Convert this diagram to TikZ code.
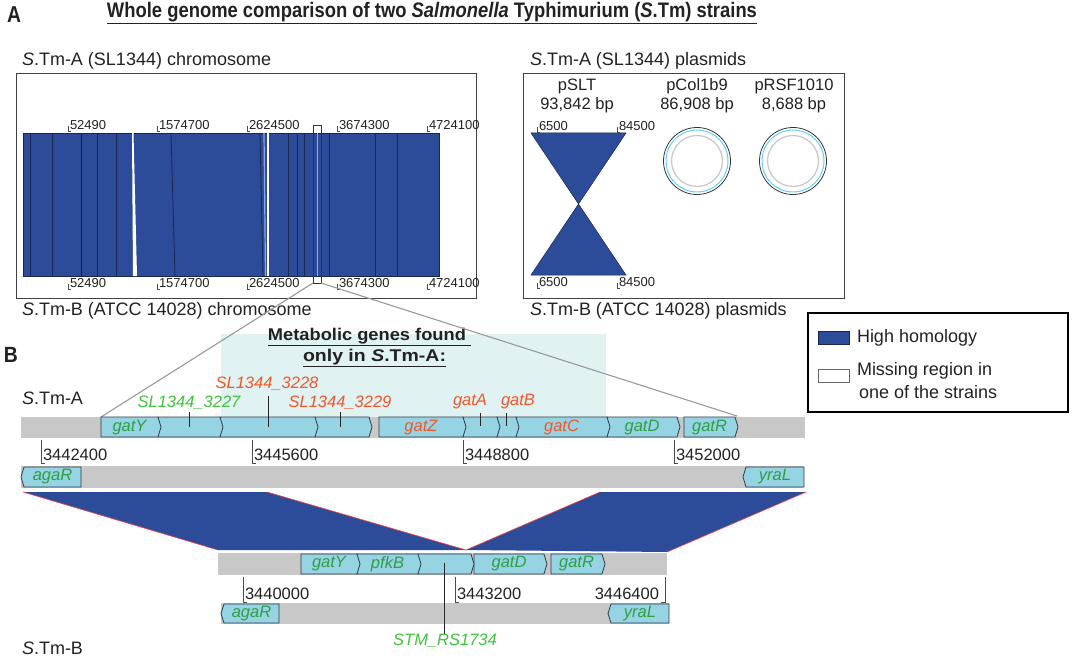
\documentclass[tikz,border=0pt]{standalone}
\usepackage{fontspec}
\setmainfont{Liberation Sans}
\usepackage{graphicx}
\definecolor{hblue}{HTML}{2C4C99}
\definecolor{genecyan}{HTML}{96D3E3}
\definecolor{barg}{HTML}{C8C8C8}
\definecolor{shadeteal}{HTML}{E0F2F1}
\definecolor{orng}{HTML}{F0582A}
\definecolor{gbright}{HTML}{3EC43A}
\definecolor{gdark}{HTML}{2F9E44}
\definecolor{ink}{HTML}{222222}
\definecolor{lineblue}{HTML}{1A2550}
\definecolor{ltblue}{HTML}{8CA8E0}
\definecolor{geneline}{HTML}{2E3A48}
\newcommand\fsbig{\fontsize{18}{21}\selectfont}
\newcommand\fsmid{\fontsize{16.5}{19}\selectfont}
\newcommand\fstiny{\fontsize{13}{15}\selectfont}
\newcommand\genefwd[4]{\draw[gene] (#1,#3) -- (#2,#3) -- ({#2+3},{(#3+#4)/2}) -- (#2,#4) -- (#1,#4) -- cycle;}
\newcommand\generev[4]{\draw[gene] (#2,#3) -- (#1,#3) -- ({#1-3},{(#3+#4)/2}) -- (#1,#4) -- (#2,#4) -- cycle;}
\newcommand\chrtick[3]{\draw[ticksty] (#1,{#2+1}) -- (#1,{#2+6}) -- ({#1+3},{#2+6});
  \node[anchor=west,font=\fstiny,text=ink] at ({#1+2},#2) {#3};}
\newcommand\rulR[4]{\draw[ticksty] (#1,#2) -- (#1,#3) -- ({#1+4},#3);
  \node[anchor=west,font=\fsmid,text=ink] at ({#1+2},{#3-8}) {#4};}
\newcommand\rulL[4]{\draw[ticksty] (#1,#2) -- (#1,#3) -- ({#1-4},#3);
  \node[anchor=east,font=\fsmid,text=ink] at ({#1-6},{#3-8}) {#4};}
\tikzset{
  gene/.style={fill=genecyan, draw=geneline, line width=0.8pt, line join=miter},
  ticksty/.style={draw=black!70, line width=0.7pt},
  vline/.style={draw=lineblue, line width=0.8pt},
  glab/.style={font=\fsmid\itshape},
  lbl/.style={font=\fsbig, text=ink},
  panel/.style={draw=black!75, line width=1pt, fill=none}
}
\begin{document}
\begin{tikzpicture}[x=1pt,y=-1pt, every node/.style={inner sep=0pt, outer sep=0pt}]
\useasboundingbox (0,0) rectangle (1080,658);
\fill[white] (0,0) rectangle (1080,658);

% ---------- Panel A ----------
\node[font=\fontsize{23}{25}\selectfont\bfseries, text=ink] (labA) at (14,15) {\resizebox{14pt}{\height}{A}};
\node[text=ink] (title) at (432,13) {\resizebox{650pt}{\height}{\fontsize{21}{24}\selectfont\bfseries\underline{Whole genome comparison of two \textit{Salmonella} Typhimurium (\textit{S}.Tm) strains}}};

\node[lbl, anchor=west] (chrA) at (22,61) {\textit{S}.Tm-A (SL1344) chromosome};
\node[lbl, anchor=west] (chrB) at (22,311) {\textit{S}.Tm-B (ATCC 14028) chromosome};
\node[lbl, anchor=west] (plA) at (530,61) {\textit{S}.Tm-A (SL1344) plasmids};
\node[lbl, anchor=west] (plB) at (530,311) {\textit{S}.Tm-B (ATCC 14028) plasmids};

\draw[panel] (16,74) rectangle (476,298);
\draw[panel] (523,74) rectangle (844,298);

% chromosome alignment block
\fill[hblue] (23,133) rectangle (439,276);
\draw[lineblue, line width=0.6pt] (23,133) rectangle (439,276);
\foreach \a/\b in {30/30,52/52,97/97,116/116,171/175,260/263,288/288,297/297,304/304,329/329,375/375,397/397}
  \draw[vline] (\a,133) -- (\b,276);
\draw[line width=0.8pt, draw=black!60!red] (81,133) -- (81,276);
\fill[white] (132,133) -- (133.5,133) -- (137,276) -- (133,276) -- cycle;
\draw[ltblue, line width=1.2pt] (264,133) -- (265.5,276);
\fill[white] (267,133) rectangle (269,276);
\draw[ltblue, line width=1pt] (317,133) -- (317,276);
\node[draw=black!80, line width=0.8pt, minimum width=8pt, minimum height=158pt] (zoombox) at (317,204) {};

\chrtick{68}{125}{52490}
\chrtick{157}{125}{1574700}
\chrtick{247}{125}{2624500}
\chrtick{337}{125}{3674300}
\chrtick{427}{125}{4724100}
\chrtick{68}{283}{52490}
\chrtick{157}{283}{1574700}
\chrtick{247}{283}{2624500}
\chrtick{337}{283}{3674300}
\chrtick{427}{283}{4724100}

% plasmids
\node[font=\fontsize{16.5}{19}\selectfont, text=ink, align=center] (pslt) at (577,96) {pSLT\\93,842 bp};
\node[font=\fontsize{16.5}{19}\selectfont, text=ink, align=center] (pcol) at (697,96) {pCol1b9\\86,908 bp};
\node[font=\fontsize{16.5}{19}\selectfont, text=ink, align=center] (prsf) at (794,96) {pRSF1010\\8,688 bp};
\fill[hblue, draw=lineblue, line width=0.5pt] (531,133) -- (626,133) -- (578.5,204) -- cycle;
\fill[hblue, draw=lineblue, line width=0.5pt] (578.5,204) -- (531,275) -- (626,275) -- cycle;
\chrtick{537}{126}{6500}
\chrtick{617}{126}{84500}
\chrtick{537}{282}{6500}
\chrtick{617}{282}{84500}
\foreach \cx in {697,793}{
  \draw[black!80, line width=0.8pt] (\cx,161) circle[radius=33.5];
  \draw[cyan!60!white, line width=1pt] (\cx,161) circle[radius=31];
  \draw[black!22, line width=1.2pt] (\cx,161) circle[radius=25.5];
}

% legend
\node[draw=black, line width=1.2pt, minimum width=260pt, minimum height=99pt] (legend) at (938,362.5) {};
\fill[hblue, draw=lineblue, line width=0.6pt] (818,331) rectangle (849,344);
\draw[black!60, line width=0.8pt, fill=white] (818,369) rectangle (849,382);
\node[lbl, anchor=west] (lg1) at (857,337.5) {High homology};
\node[lbl, anchor=west] (lg2) at (857,371) {Missing region in};
\node[lbl, anchor=west] (lg3) at (859,392) {one of the strains};

% ---------- Panel B ----------
\fill[shadeteal] (221,334) rectangle (606,418);
\node[text=ink] (mg1) at (369.5,337) {\resizebox{203pt}{\height}{\fontsize{17}{20}\selectfont\bfseries\underline{Metabolic genes found~}}};
\node[text=ink] (mg2) at (374.5,358) {\resizebox{143pt}{\height}{\fontsize{17}{20}\selectfont\bfseries\underline{only in \textit{S}.Tm-A:}}};
\node[font=\fontsize{22}{24}\selectfont\bfseries, text=ink] (labB) at (11,355) {\resizebox{14pt}{\height}{B}};
\node[lbl, anchor=west] (stmA) at (22,398) {\textit{S}.Tm-A};
\node[lbl, anchor=west] (stmB) at (22,648) {\textit{S}.Tm-B};

\coordinate (gatYtl) at (101,417);
\coordinate (gatRtr) at (737,416);
\draw[black!40, line width=1.1pt] (zoombox.south west) -- (gatYtl);
\draw[black!40, line width=1.1pt] (zoombox.south east) -- (gatRtr);

% row 1 : S.Tm-A forward
\fill[barg] (21,416.5) rectangle (805,438);
\genefwd{684}{735}{417}{437}
\genefwd{607}{677}{417}{437}
\genefwd{516}{607}{417}{437}
\genefwd{497}{516}{417}{437}
\genefwd{463}{497}{417}{437}
\genefwd{379}{463}{417}{437}
\genefwd{315}{369}{417}{437}
\genefwd{220}{315}{417}{437}
\genefwd{158}{220}{417}{437}
\genefwd{101}{158}{417}{437}
\node[glab, text=gdark] (gYa) at (129.5,427.5) {gatY};
\node[glab, text=orng] (gZa) at (421,427.5) {gatZ};
\node[glab, text=orng] (gCa) at (561.5,427.5) {gatC};
\node[glab, text=gdark] (gDa) at (642,427.5) {gatD};
\node[glab, text=gdark] (gRa) at (709.5,427.5) {gatR};
\draw[black!85, line width=1pt] (189,412) -- (189,427);
\draw[black!85, line width=1pt] (268,396) -- (268,427);
\draw[black!85, line width=1pt] (340,412) -- (340,427);
\draw[black!85, line width=1pt] (480,413) -- (480,426);
\draw[black!85, line width=1pt] (506,413) -- (506,426);
\node[glab, text=gbright] (s27) at (189,403) {SL1344\_3227};
\node[glab, text=orng] (s28) at (267,384) {SL1344\_3228};
\node[glab, text=orng] (s29) at (340,403) {SL1344\_3229};
\node[glab, text=orng] (gA) at (470,402) {gatA};
\node[glab, text=orng] (gB) at (518,402) {gatB};

\rulR{41}{440}{463}{3442400}
\rulR{252}{440}{463}{3445600}
\rulR{463}{440}{463}{3448800}
\rulR{674}{440}{463}{3452000}

% row 2 : S.Tm-A reverse
\fill[barg] (21,466) rectangle (803,488);
\generev{24}{81}{467}{487}
\generev{746}{804}{467}{487}
\node[glab, text=gdark] (aRa) at (52.5,477) {agaR};
\node[glab, text=gdark] (yLa) at (775,477) {yraL};

% homology
\fill[hblue] (23,492) -- (267,492) -- (466,550) -- (218,550) -- cycle;
\fill[hblue] (466,550) -- (600,492) -- (806,492) -- (667,552) -- cycle;
\draw[red!75, line width=0.6pt] (23,492) -- (218,550);
\draw[red!75, line width=0.6pt] (267,492) -- (466,550) -- (600,492);
\draw[red!75, line width=0.6pt] (806,492) -- (667,552);

% row 3 : S.Tm-B forward
\fill[barg] (218,553) rectangle (667,575);
\genefwd{551}{602}{554}{574}
\genefwd{474}{544}{554}{574}
\genefwd{418}{471}{554}{574}
\genefwd{357}{418}{554}{574}
\genefwd{301}{357}{554}{574}
\node[glab, text=gdark] (gYb) at (329,564) {gatY};
\node[glab, text=gdark] (pfk) at (387.5,564) {pfkB};
\node[glab, text=gdark] (gDb) at (509,564) {gatD};
\node[glab, text=gdark] (gRb) at (576.5,564) {gatR};

\rulR{243}{577}{602}{3440000}
\rulR{455}{577}{602}{3443200}
\rulL{665}{577}{602}{3446400}

% row 4 : S.Tm-B reverse
\fill[barg] (221,603) rectangle (669,624);
\generev{224}{279}{604}{623}
\generev{611}{669}{604}{623}
\node[glab, text=gdark] (aRb) at (251.5,613.5) {agaR};
\node[glab, text=gdark] (yLb) at (640,613.5) {yraL};

\node[glab, text=gbright] (stm) at (445,641) {STM\_RS1734};
\coordinate (stmgene) at (444,563);
\draw[black!85, line width=1pt] (stmgene) -- (stm.north -| stmgene);
\end{tikzpicture}
\end{document}
